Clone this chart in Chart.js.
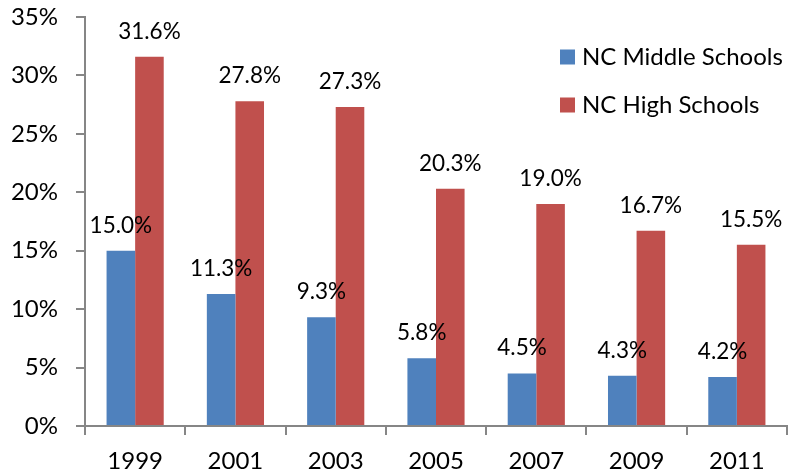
<!DOCTYPE html>
<html>
<head>
<meta charset="utf-8">
<script src="https://cdn.jsdelivr.net/npm/chart.js@4/dist/chart.umd.min.js"></script>
<style>
  html, body { margin: 0; padding: 0; background: #ffffff; }
  #wrap { width: 798px; height: 473px; position: relative; }
</style>
</head>
<body>
<div id="wrap"><canvas id="c" width="798" height="473"></canvas></div>
<script>
const categories = ["1999", "2001", "2003", "2005", "2007", "2009", "2011"];
const seriesNames = ["NC Middle Schools", "NC High Schools"];
const middleSchools = [15.0, 11.3, 9.3, 5.8, 4.5, 4.3, 4.2];
const highSchools = [31.6, 27.8, 27.3, 20.3, 19.0, 16.7, 15.5];
const yTicks = [0, 5, 10, 15, 20, 25, 30, 35];

const FONT = "Lato, 'Open Sans', sans-serif";
const BLUE = "#4F81BD";
const RED = "#C0504D";
const AXIS = "#868686";

const valueLabels = {
  id: "valueLabels",
  afterDatasetsDraw(chart) {
    const ctx = chart.ctx;
    ctx.save();
    ctx.font = "22.5px " + FONT;
    ctx.fillStyle = "#000";
    ctx.textAlign = "center";
    ctx.textBaseline = "alphabetic";
    chart.data.datasets.forEach((ds, i) => {
      const meta = chart.getDatasetMeta(i);
      meta.data.forEach((el, j) => {
        ctx.fillText(ds.data[j].toFixed(1) + "%", el.x, el.y - 18);
      });
    });
    ctx.restore();
  }
};

const sideLegend = {
  id: "sideLegend",
  afterDraw(chart) {
    const ctx = chart.ctx;
    const x0 = 560, y0 = 57, rowGap = 48, box = 15;
    ctx.save();
    ctx.font = "24px " + FONT;
    ctx.textAlign = "left";
    ctx.textBaseline = "middle";
    chart.data.datasets.forEach((ds, i) => {
      const y = y0 + i * rowGap;
      ctx.fillStyle = ds.backgroundColor;
      ctx.fillRect(x0, y - box / 2, box, box);
      ctx.fillStyle = "#000";
      ctx.fillText(ds.label, x0 + 22, y);
    });
    ctx.restore();
  }
};

new Chart(document.getElementById("c"), {
  type: "bar",
  data: {
    labels: categories,
    datasets: [
      { label: seriesNames[0], data: middleSchools, backgroundColor: BLUE },
      { label: seriesNames[1], data: highSchools, backgroundColor: RED }
    ]
  },
  options: {
    responsive: false,
    animation: false,
    devicePixelRatio: 1,
    layout: { padding: { top: 17, right: 11, left: 0, bottom: 0 } },
    datasets: { bar: { categoryPercentage: 0.57, barPercentage: 1.0 } },
    plugins: {
      legend: { display: false },
      tooltip: { enabled: false }
    },
    scales: {
      x: {
        grid: { drawOnChartArea: false, offset: true, color: AXIS, tickLength: 9, lineWidth: 2 },
        border: { color: AXIS, width: 2 },
        ticks: { color: "#000", font: { family: FONT, size: 24 }, padding: 12, maxRotation: 0 },
        afterFit(s) { s.height = 47; s.paddingLeft = 0; s.paddingRight = 0; }
      },
      y: {
        min: 0, max: 35,
        afterBuildTicks(s) { s.ticks = yTicks.map(v => ({ value: v })); },
        grid: { drawOnChartArea: false, color: AXIS, tickLength: 9, lineWidth: 2 },
        border: { color: AXIS, width: 2 },
        ticks: { color: "#000", font: { family: FONT, size: 24 }, padding: 18, callback: v => v + "%" },
        afterFit(s) { s.width = 85; s.paddingTop = 0; s.paddingBottom = 0; }
      }
    }
  },
  plugins: [valueLabels, sideLegend]
});
</script>
</body>
</html>
